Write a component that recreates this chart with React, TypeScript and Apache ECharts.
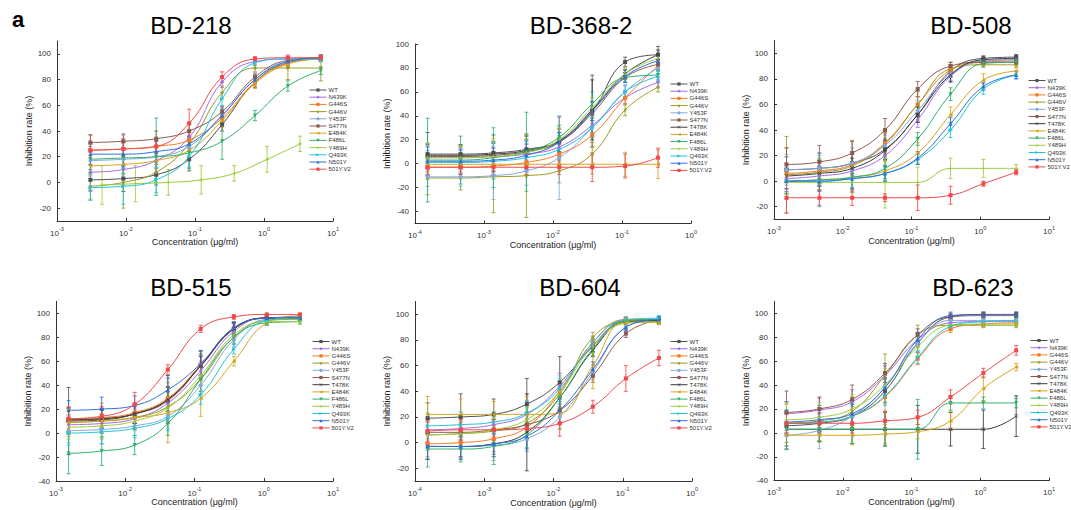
import React, { useEffect, useRef } from "react";
import * as echarts from "echarts";

// ---------- data ----------
const variants = ["WT", "N439K", "G446S", "G446V", "Y453F", "S477N", "T478K", "E484K", "F486L", "Y489H", "Q493K", "N501Y", "501Y.V2"];
const colors = ["#505050", "#a56be6", "#f47a22", "#9c9a22", "#80a8e2", "#8c5a52", "#3a3a3a", "#d9a21b", "#2faf6b", "#9ccc3c", "#22c4d6", "#2c6fdc", "#f2484b"];

const titles = ["BD-218", "BD-368-2", "BD-508", "BD-515", "BD-604", "BD-623"];

const concA = [0.00305, 0.00914, 0.0274, 0.0823, 0.247, 0.741, 2.22, 6.67];
const concA2 = [0.0045, 0.0137, 0.041, 0.123, 0.37, 1.11, 3.33];
const concB = [0.000152, 0.000457, 0.00137, 0.00412, 0.0123, 0.037, 0.111, 0.333];
const concC = [0.00152, 0.00457, 0.0137, 0.0412, 0.123, 0.37, 1.11, 3.33];

// BD-218 (no T478K)
const bd218Mean: number[][] = [
  [2, 3, 6, 18, 45, 78, 93, 96],
  [8, 10, 17, 35, 78, 94, 96, 96],
  [25, 26, 28, 33, 50, 78, 93, 97],
  [-3, 0, 8, 30, 70, 89, 89, 89],
  [17, 18, 20, 28, 52, 80, 94, 96],
  [31, 32, 34, 40, 55, 82, 95, 97],
  [],
  [13, 14, 17, 25, 48, 77, 92, 96],
  [18, 19, 20, 23, 32, 52, 75, 87],
  [-2, -1, 0, 2, 7, 18, 30],
  [-4, -3, 2, 20, 65, 93, 96, 96],
  [22, 22, 24, 30, 52, 80, 94, 97],
  [25, 26, 28, 46, 82, 96, 97, 97],
];
const bd218Err: number[][] = [
  [8, 10, 8, 9, 5, 4, 3, 2],
  [15, 8, 6, 6, 4, 3, 2, 2],
  [12, 8, 5, 6, 4, 3, 2, 2],
  [10, 20, 8, 6, 5, 3, 9, 10],
  [14, 20, 12, 8, 6, 4, 2, 2],
  [6, 5, 6, 6, 4, 3, 2, 2],
  [],
  [8, 8, 6, 6, 5, 4, 3, 2],
  [10, 12, 30, 12, 14, 4, 4, 3],
  [15, 14, 10, 11, 6, 10, 6],
  [10, 14, 10, 8, 5, 4, 2, 2],
  [8, 10, 8, 6, 5, 3, 2, 2],
  [6, 5, 4, 11, 4, 2, 2, 2],
];

// BD-368-2
const bd368Mean: number[][] = [
  [8, 8, 9, 12, 19, 44, 85, 91],
  [5, 5, 6, 8, 14, 32, 55, 68],
  [-3, -3, -2, 1, 8, 24, 55, 82],
  [-12, -12, -11, -10, -6, 8, 45, 64],
  [-11, -11, -10, -6, 5, 30, 60, 80],
  [6, 6, 7, 10, 18, 42, 72, 83],
  [7, 7, 8, 11, 19, 45, 75, 91],
  [-0.5, -0.5, -0.5, -0.5, -0.5, -0.5, -0.5, -0.5],
  [3, 3, 5, 10, 22, 50, 72, 74],
  [5, 5, 6, 9, 20, 47, 75, 88],
  [1, 1, 2, 5, 12, 30, 60, 73],
  [2, 2, 3, 7, 18, 44, 73, 86],
  [-3, -3, -3, -3, -3, -3, -2, 5],
];
const bd368Err: number[][] = [
  [18, 8, 15, 12, 20, 30, 4, 7],
  [10, 8, 8, 8, 8, 6, 5, 4],
  [10, 8, 8, 10, 8, 10, 6, 4],
  [14, 10, 30, 35, 10, 10, 5, 4],
  [8, 8, 20, 12, 35, 8, 6, 5],
  [10, 8, 10, 10, 8, 6, 4, 4],
  [10, 8, 10, 12, 10, 25, 4, 4],
  [6, 6, 6, 6, 6, 8, 10, 12],
  [35, 20, 25, 33, 10, 10, 4, 4],
  [12, 10, 15, 12, 10, 8, 5, 4],
  [10, 10, 15, 12, 10, 8, 5, 4],
  [12, 10, 10, 12, 8, 8, 5, 5],
  [6, 6, 6, 6, 6, 12, 10, 8],
];

// BD-508
const bd508Mean: number[][] = [
  [9, 10, 14, 25, 52, 86, 96, 97],
  [2, 4, 8, 20, 48, 82, 94, 95],
  [6, 8, 13, 30, 60, 87, 93, 94],
  [5, 7, 12, 29, 60, 88, 91, 91],
  [9, 10, 14, 28, 55, 84, 94, 95],
  [13, 15, 22, 40, 72, 90, 93, 93],
  [4, 6, 10, 24, 52, 83, 95, 96],
  [0, 1, 3, 8, 22, 52, 79, 86],
  [0, 1, 3, 10, 33, 68, 92, 93],
  [-1, -1, -1, -1, -1, 10, 10, 10],
  [0, 0, 2, 6, 17, 40, 72, 83],
  [0, 0, 2, 6, 18, 45, 74, 83],
  [-13, -13, -13, -13, -13, -11, -2, 7],
];
const bd508Err: number[][] = [
  [10, 12, 8, 8, 6, 5, 2, 2],
  [8, 8, 6, 8, 6, 5, 2, 2],
  [20, 10, 8, 8, 6, 4, 2, 2],
  [30, 10, 20, 8, 10, 5, 2, 2],
  [12, 12, 12, 8, 8, 5, 2, 2],
  [13, 13, 9, 9, 6, 3, 2, 2],
  [10, 10, 8, 8, 6, 5, 2, 2],
  [10, 8, 8, 8, 8, 6, 5, 3],
  [10, 8, 12, 8, 5, 5, 2, 2],
  [8, 6, 8, 20, 12, 8, 7, 3],
  [10, 20, 8, 6, 4, 6, 4, 3],
  [8, 8, 8, 6, 5, 5, 3, 3],
  [12, 6, 6, 3, 10, 7, 2, 2],
];

// BD-515
const bd515Mean: number[][] = [
  [10, 11, 16, 28, 57, 87, 96, 96],
  [7, 8, 12, 25, 52, 85, 96, 96],
  [12, 13, 17, 29, 57, 87, 96, 96],
  [9, 10, 13, 22, 45, 80, 94, 95],
  [2, 3, 6, 14, 40, 78, 95, 96],
  [11, 12, 16, 27, 56, 87, 96, 96],
  [11, 12, 16, 28, 56, 87, 96, 96],
  [9, 10, 13, 17, 29, 60, 92, 98],
  [-17, -15, -10, 8, 45, 80, 92, 93],
  [5, 6, 10, 21, 48, 82, 93, 93],
  [0, 1, 4, 12, 32, 70, 94, 96],
  [19, 20, 23, 36, 58, 88, 96, 97],
  [12, 14, 24, 53, 87, 97, 99, 99],
];
const bd515Err: number[][] = [
  [28, 8, 8, 20, 12, 5, 2, 2],
  [8, 8, 8, 10, 8, 5, 2, 2],
  [8, 8, 8, 10, 8, 5, 2, 2],
  [10, 10, 10, 12, 10, 6, 3, 2],
  [10, 12, 8, 10, 8, 6, 3, 2],
  [10, 8, 8, 12, 10, 5, 2, 2],
  [10, 8, 8, 10, 8, 5, 2, 2],
  [12, 15, 10, 25, 15, 4, 2, 2],
  [17, 12, 8, 10, 10, 5, 2, 2],
  [10, 10, 8, 10, 8, 5, 2, 2],
  [10, 10, 8, 10, 8, 4, 3, 2],
  [8, 10, 8, 10, 10, 5, 2, 2],
  [10, 8, 10, 4, 3, 2, 1, 1],
];

// BD-604
const bd604Mean: number[][] = [
  [19, 20, 22, 30, 47, 75, 95, 95],
  [10, 11, 14, 22, 44, 76, 95, 96],
  [-1, 0, 3, 12, 40, 78, 96, 96],
  [6, 7, 9, 15, 38, 82, 94, 94],
  [-3, -3, -2, 3, 20, 55, 90, 96],
  [8, 8, 10, 14, 25, 52, 85, 96],
  [-3, -3, -1, 8, 35, 72, 94, 95],
  [22, 22, 22, 22, 23, 60, 94, 94],
  [-5, -5, -3, 6, 35, 73, 95, 96],
  [6, 7, 10, 18, 40, 75, 93, 94],
  [13, 14, 16, 23, 42, 78, 96, 97],
  [-3, -3, -1, 5, 25, 57, 90, 96],
  [9, 10, 10, 11, 15, 28, 50, 66],
];
const bd604Err: number[][] = [
  [12, 18, 12, 20, 20, 5, 2, 2],
  [10, 10, 8, 10, 10, 5, 2, 2],
  [10, 12, 10, 10, 10, 5, 2, 2],
  [12, 12, 10, 12, 10, 4, 2, 2],
  [10, 10, 12, 10, 10, 6, 3, 2],
  [8, 8, 8, 10, 10, 5, 3, 2],
  [10, 8, 10, 30, 10, 5, 2, 2],
  [14, 12, 10, 14, 12, 18, 2, 2],
  [14, 10, 14, 10, 10, 5, 2, 2],
  [10, 10, 10, 10, 10, 5, 2, 2],
  [10, 10, 8, 10, 10, 5, 2, 2],
  [10, 10, 8, 10, 10, 6, 3, 2],
  [8, 8, 8, 8, 10, 5, 10, 6],
];

// BD-623
const bd623Mean: number[][] = [
  [6, 8, 14, 35, 75, 97, 99, 99],
  [16, 19, 26, 48, 78, 92, 93, 93],
  [8, 9, 14, 30, 62, 87, 91, 92],
  [8, 10, 18, 48, 82, 90, 90, 90],
  [-2, 2, 14, 38, 75, 94, 94, 94],
  [17, 20, 28, 50, 82, 97, 98, 98],
  [3, 3, 3, 3, 3, 3, 3, 14],
  [-2, -2, -2, -1, 1, 10, 37, 55],
  [3, 3, 3, 3, 3, 25, 25, 25],
  [11, 13, 20, 40, 72, 90, 91, 91],
  [8, 9, 14, 31, 63, 89, 93, 94],
  [9, 11, 16, 38, 78, 98, 99, 99],
  [8, 8, 8, 10, 13, 30, 50, 69],
];
const bd623Err: number[][] = [
  [20, 15, 12, 10, 8, 3, 2, 2],
  [10, 10, 10, 8, 6, 3, 3, 3],
  [8, 8, 8, 12, 5, 3, 2, 2],
  [16, 10, 12, 18, 8, 3, 2, 2],
  [12, 15, 10, 8, 6, 3, 2, 2],
  [18, 10, 12, 8, 5, 2, 2, 2],
  [14, 10, 12, 14, 20, 14, 16, 17],
  [6, 6, 8, 8, 6, 8, 10, 3],
  [16, 10, 12, 14, 25, 6, 5, 4],
  [14, 12, 12, 14, 8, 4, 3, 3],
  [10, 10, 10, 8, 5, 3, 2, 2],
  [10, 10, 8, 8, 6, 3, 2, 2],
  [8, 8, 8, 8, 6, 6, 4, 4],
];

const yTicksA = [-20, 0, 20, 40, 60, 80, 100];
const yTicksB = [-40, -20, 0, 20, 40, 60, 80, 100];

// ---------- layout ----------
const FONT = "Liberation Sans, Arial, sans-serif";
const symbols = [
  "rect",
  "diamond",
  "rect",
  "path://M0,-10 L2.9,-4 L9.5,-3.1 L4.8,1.5 L5.9,8.1 L0,5 L-5.9,8.1 L-4.8,1.5 L-9.5,-3.1 L-2.9,-4 Z",
  "circle",
  "rect",
  "path://M-4,-5 L0,-1 L4,-5 L5,-4 L1,0 L5,4 L4,5 L0,1 L-4,5 L-5,4 L-1,0 L-5,-4 Z",
  "triangle",
  "triangle",
  "path://M-1,-5 L1,-5 L1,-1 L5,-1 L5,1 L1,1 L1,5 L-1,5 L-1,1 L-5,1 L-5,-1 L-1,-1 Z",
  "triangle",
  "triangle",
  "rect",
];
const symbolRot = [0, 0, 0, 0, 0, 0, 0, 90, 180, 0, -90, 0, 0];

const panels = [
  { mean: bd218Mean, err: bd218Err, conc: concA, alt: concA2, altIdx: 9, xMin: 1e-3, xMax: 10, yMin: -30, yMax: 110, ticks: yTicksA,
    grid: { left: 57, top: 41, width: 276, height: 180 }, legend: { left: 309, top: 86.5 }, title: [191, 25] },
  { mean: bd368Mean, err: bd368Err, conc: concB, xMin: 1e-4, xMax: 1, yMin: -50, yMax: 100, ticks: yTicksB,
    grid: { left: 415, top: 44, width: 276, height: 179.5 }, legend: { left: 670, top: 80.5 }, title: [581, 25] },
  { mean: bd508Mean, err: bd508Err, conc: concC, xMin: 1e-3, xMax: 10, yMin: -30, yMax: 110, ticks: yTicksA,
    grid: { left: 774, top: 40.5, width: 275, height: 179 }, legend: { left: 1028, top: 77 }, title: [971, 25] },
  { mean: bd515Mean, err: bd515Err, conc: concC, xMin: 1e-3, xMax: 10, yMin: -40, yMax: 110, ticks: yTicksB,
    grid: { left: 56, top: 301.3, width: 277, height: 179.7 }, legend: { left: 312, top: 338 }, title: [191, 287] },
  { mean: bd604Mean, err: bd604Err, conc: concB, xMin: 1e-4, xMax: 1, yMin: -30, yMax: 110, ticks: yTicksA,
    grid: { left: 415, top: 301.5, width: 277, height: 179.6 }, legend: { left: 670, top: 338 }, title: [580, 287] },
  { mean: bd623Mean, err: bd623Err, conc: concC, xMin: 1e-3, xMax: 10, yMin: -40, yMax: 110, ticks: yTicksB,
    grid: { left: 774, top: 301.3, width: 275, height: 179.4 }, legend: { left: 1030, top: 337 }, title: [973, 287] },
];

function buildOption() {
  const grids: any[] = [];
  const xAxes: any[] = [];
  const yAxes: any[] = [];
  const legends: any[] = [];
  const series: any[] = [];
  const graphics: any[] = [];

  graphics.push({
    type: "text", x: 12, y: 8,
    style: { text: "a", fontSize: 22, fontWeight: "bold", fontFamily: FONT, fill: "#000" },
  });

  panels.forEach((p: any, pi) => {
    grids.push({ ...p.grid, containLabel: false });
    xAxes.push({
      type: "log", logBase: 10, gridIndex: pi, min: p.xMin, max: p.xMax,
      name: "Concentration (μg/ml)", nameLocation: "middle", nameGap: 15,
      nameTextStyle: { fontSize: 9, color: "#222", fontFamily: FONT },
      axisLine: { onZero: false, lineStyle: { color: "#333", width: 1 } },
      axisTick: { inside: true, length: 3, lineStyle: { color: "#333" } },
      splitLine: { show: false },
      minorTick: { show: false },
      axisLabel: {
        margin: 5,
        color: "#333",
        fontFamily: FONT,
        formatter: (v: number) => `{b|10}{s|${Math.round(Math.log10(v))}}`,
        rich: {
          b: { fontSize: 8, color: "#333", fontFamily: FONT, verticalAlign: "bottom", lineHeight: 11 },
          s: { fontSize: 5.5, color: "#333", fontFamily: FONT, verticalAlign: "top", lineHeight: 11 },
        },
      },
    });
    yAxes.push({
      type: "value", gridIndex: pi, min: p.yMin, max: p.yMax,
      name: "Inhibition rate (%)", nameLocation: "middle", nameGap: 21,
      nameTextStyle: { fontSize: 9, color: "#222", fontFamily: FONT },
      axisLine: { show: true, onZero: false, lineStyle: { color: "#333", width: 1 } },
      axisTick: { show: true, inside: true, length: 3, customValues: p.ticks, lineStyle: { color: "#333" } },
      splitLine: { show: false },
      axisLabel: { fontSize: 8, color: "#333", fontFamily: FONT, margin: 6, customValues: p.ticks },
    });

    const names: string[] = [];
    const errData: any[] = [];
    variants.forEach((v, vi) => {
      const m: number[] = p.mean[vi];
      if (!m || m.length === 0) return;
      names.push(v);
      const conc: number[] = p.alt && p.altIdx === vi ? p.alt : p.conc;
      series.push({
        type: "line", name: v, xAxisIndex: pi, yAxisIndex: pi,
        data: conc.map((c, i) => [c, m[i]]),
        smooth: 0.45,
        symbol: symbols[vi], symbolSize: 4, symbolRotate: symbolRot[vi],
        showSymbol: true,
        lineStyle: { width: 1, color: colors[vi] },
        itemStyle: { color: colors[vi] },
        z: 3,
        emphasis: { disabled: true },
      });
      const e: number[] = p.err[vi];
      conc.forEach((c, i) => errData.push([c, m[i], e[i], vi]));
    });

    series.push({
      type: "custom", name: "err" + pi, xAxisIndex: pi, yAxisIndex: pi,
      data: errData, encode: { x: 0, y: 1 }, z: 2,
      renderItem: (params: any, api: any) => {
        const x = api.value(0), m = api.value(1), e = api.value(2), ci = api.value(3);
        const t = api.coord([x, m + e]);
        const b = api.coord([x, m - e]);
        const st = { stroke: colors[ci], lineWidth: 1, opacity: 0.85 };
        return {
          type: "group",
          children: [
            { type: "line", shape: { x1: t[0], y1: t[1], x2: b[0], y2: b[1] }, style: st },
            { type: "line", shape: { x1: t[0] - 2, y1: t[1], x2: t[0] + 2, y2: t[1] }, style: st },
            { type: "line", shape: { x1: b[0] - 2, y1: b[1], x2: b[0] + 2, y2: b[1] }, style: st },
          ],
        };
      },
    });

    legends.push({
      data: names, orient: "vertical", left: p.legend.left, top: p.legend.top,
      itemWidth: 17, itemHeight: 4, itemGap: 0.2, padding: 0,
      selectedMode: false,
      lineStyle: { width: 1 },
      itemStyle: { borderWidth: 0 },
      textStyle: { fontSize: 6, lineHeight: 7, color: "#333", fontFamily: FONT, padding: [0, 0, 0, -3] },
    });

    graphics.push({
      type: "text", x: p.title[0], y: p.title[1],
      style: { text: titles[pi], fontSize: 24, fontFamily: FONT, fill: "#000", align: "center", verticalAlign: "middle" },
    });
  });

  return {
    animation: false,
    backgroundColor: "#fff",
    textStyle: { fontFamily: FONT },
    grid: grids,
    xAxis: xAxes,
    yAxis: yAxes,
    legend: legends,
    series,
    graphic: graphics,
  };
}

export default function App() {
  const ref = useRef<HTMLDivElement>(null);
  useEffect(() => {
    document.body.style.margin = "0";
    if (!ref.current) return;
    const chart = echarts.init(ref.current, undefined, { renderer: "svg" });
    chart.setOption(buildOption() as any);
    return () => chart.dispose();
  }, []);
  return <div ref={ref} style={{ width: 1071, height: 510 }} />;
}
